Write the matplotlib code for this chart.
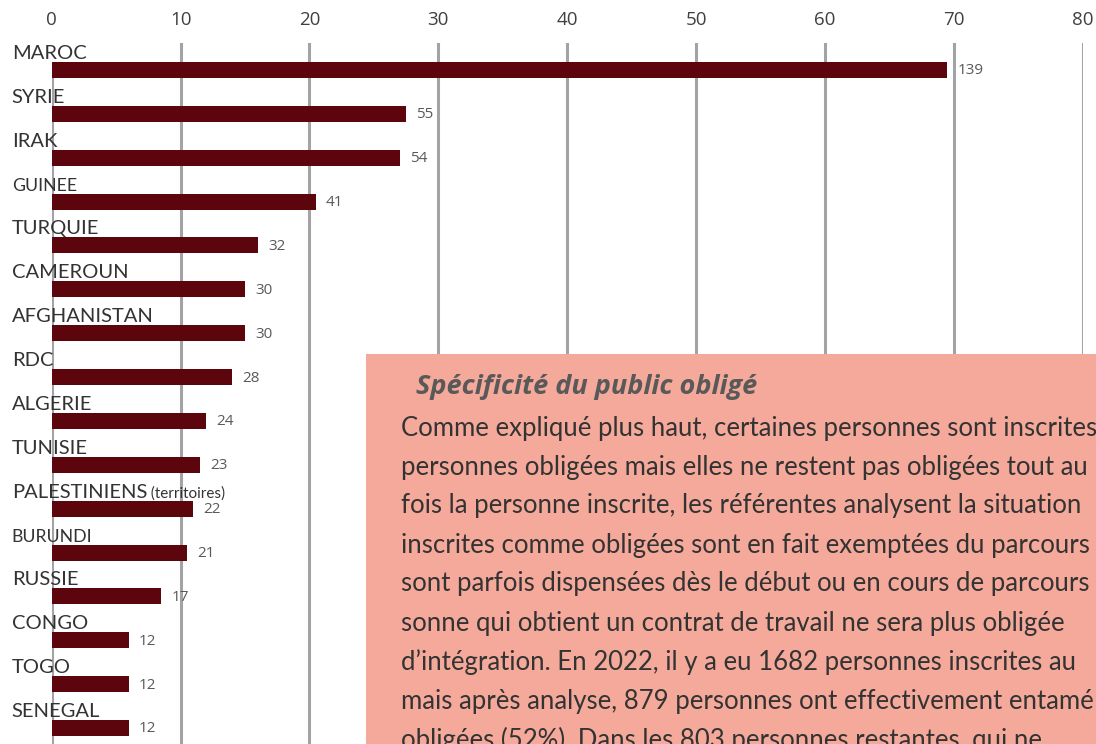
import matplotlib.pyplot as plt
from matplotlib.patches import Rectangle

# data (bars are drawn at half the labelled value)
countries = ['MAROC', 'SYRIE', 'IRAK', 'GUINEE', 'TURQUIE', 'CAMEROUN',
             'AFGHANISTAN', 'RDC', 'ALGERIE', 'TUNISIE', 'PALESTINIENS',
             'BURUNDI', 'RUSSIE', 'CONGO', 'TOGO', 'SENEGAL']
counts = [139, 55, 54, 41, 32, 30, 30, 28, 24, 23, 22, 21, 17, 12, 12, 12]
x_ticks = [0, 10, 20, 30, 40, 50, 60, 70, 80]

box_title = 'Spécificité du public obligé'
box_lines = [
    'Comme expliqué plus haut, certaines personnes sont inscrites',
    'personnes obligées mais elles ne restent pas obligées tout au',
    'fois la personne inscrite, les référentes analysent la situation',
    'inscrites comme obligées sont en fait exemptées du parcours',
    'sont parfois dispensées dès le début ou en cours de parcours',
    'sonne qui obtient un contrat de travail ne sera plus obligée',
    'd’intégration. En 2022, il y a eu 1682 personnes inscrites au',
    'mais après analyse, 879 personnes ont effectivement entamé',
    'obligées (52%). Dans les 803 personnes restantes, qui ne',
]

bar_color = '#5c050d'
grid_color = '#a3a3a6'
small_labels = {'GUINEE', 'BURUNDI'}

W, H = 1096, 744
fig = plt.figure(figsize=(W / 100, H / 100), dpi=100)
ax = fig.add_axes([51.7 / W, 0, (1082.7 - 51.7) / W, (H - 43) / H])

ypos = list(range(len(countries)))
bar_h = 0.365
lengths = [c / 2 for c in counts]
ax.barh(ypos, lengths, height=bar_h, color=bar_color, zorder=3)

ax.set_xlim(0, 80)
ax.set_ylim(15.365, -0.615)
ax.set_xticks(x_ticks)
ax.set_yticks([])
ax.xaxis.tick_top()
ax.tick_params(axis='x', length=0, pad=10, labelsize=13.5, labelcolor='#404040')
for lab in ax.get_xticklabels():
    lab.set_family('Open Sans')
for s in ax.spines.values():
    s.set_visible(False)
for t in x_ticks[1:]:
    ax.axvline(t, color=grid_color, lw=2.2, zorder=1)
ax.vlines(0, -bar_h / 2, 15.365, color=grid_color, lw=2.2, zorder=1)

for y, name, c, L in zip(ypos, countries, counts, lengths):
    size = 12.7 if name in small_labels else 14.5
    t = ax.annotate(name, (0, y - bar_h / 2), xytext=(-40, 3),
                    textcoords='offset pixels', ha='left', va='baseline',
                    fontsize=size, family='Lato', color='#333333',
                    annotation_clip=False, zorder=4)
    if name == 'PALESTINIENS':
        ax.annotate(' (territoires)', xycoords=t, xy=(1, 0), va='bottom',
                    ha='left', fontsize=11, family='Lato', color='#333333')
    ax.annotate(str(c), (L, y), xytext=(10, -1), textcoords='offset pixels',
                ha='left', va='center', fontsize=11, family='Open Sans',
                color='#595959', zorder=4)

# pink commentary box over the lower right corner
fig.patches.append(Rectangle((366 / W, 0), 1, (H - 354) / H,
                             transform=fig.transFigure, facecolor='#f5a99a',
                             edgecolor='none', zorder=5))
fig.text(416 / W, 1 - 387 / H, box_title, fontsize=19.5, family='Open Sans',
         weight='bold', style='italic', color='#595959', va='center',
         zorder=6)
for i, line in enumerate(box_lines):
    fig.text(401 / W, 1 - (428 + 39 * i) / H, line, fontsize=18.5,
             family='Lato', color='#333333', va='center', zorder=6)

fig.savefig('out.png', dpi=100)
